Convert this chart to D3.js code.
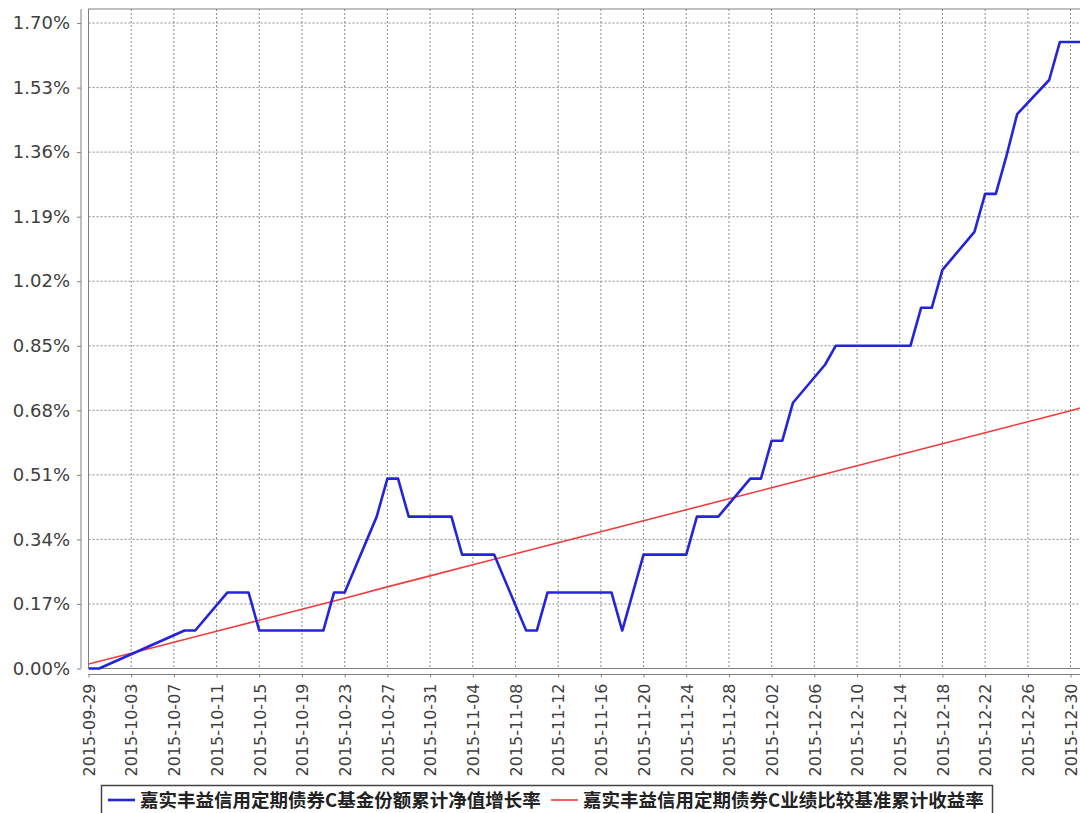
<!DOCTYPE html>
<html lang="zh-CN">
<head>
<meta charset="UTF-8">
<title>嘉实丰益信用定期债券C 累计净值增长率</title>
<script src="https://d3js.org/d3.v7.min.js"></script>
<style>
    body { margin: 0; padding: 0; background: #fff; overflow: hidden; }
    svg { display: block; }
    .tick-label { font-family: "DejaVu Sans", Verdana, sans-serif; fill: #404040; }
    .legend-text { font-family: "Noto Sans CJK SC", sans-serif; font-weight: bold; fill: #222; }
</style>
</head>
<body>
<svg id="chart" width="1080" height="813"></svg>
<script>
// 日期（交易日 + 节假日首尾）
const blueDates = [
    "2015-09-29", "2015-09-30", "2015-10-08", "2015-10-09", "2015-10-12", "2015-10-13", "2015-10-14",
    "2015-10-15", "2015-10-16", "2015-10-19", "2015-10-20", "2015-10-21", "2015-10-22", "2015-10-23",
    "2015-10-26", "2015-10-27", "2015-10-28", "2015-10-29", "2015-10-30", "2015-11-02", "2015-11-03",
    "2015-11-04", "2015-11-05", "2015-11-06", "2015-11-09", "2015-11-10", "2015-11-11", "2015-11-12",
    "2015-11-13", "2015-11-16", "2015-11-17", "2015-11-18", "2015-11-19", "2015-11-20", "2015-11-23",
    "2015-11-24", "2015-11-25", "2015-11-26", "2015-11-27", "2015-11-30", "2015-12-01", "2015-12-02",
    "2015-12-03", "2015-12-04", "2015-12-07", "2015-12-08", "2015-12-09", "2015-12-10", "2015-12-11",
    "2015-12-14", "2015-12-15", "2015-12-16", "2015-12-17", "2015-12-18", "2015-12-21", "2015-12-22",
    "2015-12-23", "2015-12-24", "2015-12-25", "2015-12-28", "2015-12-29", "2015-12-30", "2015-12-31"
];
// 基金份额累计净值增长率 (%)
const blueValues = [
    0.00, 0.00, 0.10, 0.10, 0.20, 0.20, 0.20,
    0.10, 0.10, 0.10, 0.10, 0.10, 0.20, 0.20,
    0.40, 0.50, 0.50, 0.40, 0.40, 0.40, 0.30,
    0.30, 0.30, 0.30, 0.10, 0.10, 0.20, 0.20,
    0.20, 0.20, 0.20, 0.10, 0.20, 0.30, 0.30,
    0.30, 0.40, 0.40, 0.40, 0.50, 0.50, 0.60,
    0.60, 0.70, 0.80, 0.85, 0.85, 0.85, 0.85,
    0.85, 0.85, 0.95, 0.95, 1.05, 1.15, 1.25,
    1.25, 1.35, 1.46, 1.55, 1.65, 1.65, 1.65
];

// 业绩比较基准累计收益率 (%)
const redDates = [
    "2015-09-29", "2015-10-03", "2015-10-07", "2015-10-11", "2015-10-15", "2015-10-19", "2015-10-23",
    "2015-10-27", "2015-10-31", "2015-11-04", "2015-11-08", "2015-11-12", "2015-11-16", "2015-11-20",
    "2015-11-24", "2015-11-28", "2015-12-02", "2015-12-06", "2015-12-10", "2015-12-14", "2015-12-18",
    "2015-12-22", "2015-12-26", "2015-12-30", "2015-12-31"
];
const redValues = [
    0.012, 0.040, 0.069, 0.098, 0.127, 0.156, 0.185,
    0.215, 0.244, 0.273, 0.302, 0.331, 0.360, 0.389,
    0.418, 0.447, 0.476, 0.505, 0.534, 0.563, 0.592,
    0.621, 0.650, 0.679, 0.687
];

const xTickLabels = [
    "2015-09-29", "2015-10-03", "2015-10-07", "2015-10-11", "2015-10-15", "2015-10-19", "2015-10-23",
    "2015-10-27", "2015-10-31", "2015-11-04", "2015-11-08", "2015-11-12", "2015-11-16", "2015-11-20",
    "2015-11-24", "2015-11-28", "2015-12-02", "2015-12-06", "2015-12-10", "2015-12-14", "2015-12-18",
    "2015-12-22", "2015-12-26", "2015-12-30"
];
const yTicks = [0, 0.17, 0.34, 0.51, 0.68, 0.85, 1.02, 1.19, 1.36, 1.53, 1.70];

const seriesNames = [
    "嘉实丰益信用定期债券C基金份额累计净值增长率",
    "嘉实丰益信用定期债券C业绩比较基准累计收益率"
];

const parse = d3.utcParse("%Y-%m-%d");
const svg = d3.select("#chart");

// 绘图区
const plot = { left: 88.5, top: 9, right: 1081.2, bottom: 668.5 };

const x = d3.scaleUtc()
    .domain([parse("2015-09-29"), parse("2015-12-31")])
    .range([plot.left, plot.right]);

const y = d3.scaleLinear()
    .domain([0, 1.737])
    .range([plot.bottom, plot.top]);

// 网格线
const grid = svg.append("g");
grid.selectAll(".hgrid")
    .data(yTicks)
    .enter().append("line")
    .attr("x1", plot.left).attr("x2", plot.right)
    .attr("y1", d => y(d)).attr("y2", d => y(d))
    .attr("stroke", "#8c8c8c")
    .attr("stroke-dasharray", "2,2");

grid.selectAll(".vgrid")
    .data(xTickLabels.map(parse))
    .enter().append("line")
    .attr("x1", d => x(d)).attr("x2", d => x(d))
    .attr("y1", plot.top).attr("y2", plot.bottom)
    .attr("stroke", "#8c8c8c")
    .attr("stroke-dasharray", "2,2");

// 绘图区边框
svg.append("rect")
    .attr("x", plot.left).attr("y", plot.top)
    .attr("width", plot.right - plot.left)
    .attr("height", plot.bottom - plot.top)
    .attr("fill", "none")
    .attr("stroke", "#808080");

// 坐标轴（偏移）
const yAxis = svg.append("g")
    .attr("transform", "translate(81,0)")
    .call(d3.axisLeft(y).tickValues(yTicks).tickSize(4).tickPadding(7)
        .tickFormat(d => d.toFixed(2) + "%"));
yAxis.select(".domain").attr("stroke", "#808080").attr("d", `M0,${plot.top}V${plot.bottom}`);
yAxis.selectAll(".tick line").attr("stroke", "#808080");
yAxis.selectAll(".tick text")
    .attr("class", "tick-label")
    .style("font-size", "18px");

const xAxis = svg.append("g")
    .attr("transform", "translate(0,674.5)")
    .call(d3.axisBottom(x).tickValues(xTickLabels.map(parse)).tickSize(3)
        .tickFormat(d3.utcFormat("%Y-%m-%d")));
xAxis.select(".domain").attr("stroke", "#808080").attr("d", `M${plot.left},0H${plot.right}`);
xAxis.selectAll(".tick line").attr("stroke", "#808080");
xAxis.selectAll(".tick text")
    .attr("class", "tick-label")
    .style("font-size", "16px")
    .attr("transform", "rotate(-90)")
    .attr("x", -9)
    .attr("y", 0)
    .attr("dy", "0.36em")
    .style("text-anchor", "end");

// 折线
const line = d3.line()
    .x(d => x(d[0]))
    .y(d => y(d[1]));

svg.append("clipPath").attr("id", "clip")
    .append("rect")
    .attr("x", plot.left).attr("y", plot.top)
    .attr("width", plot.right - plot.left)
    .attr("height", plot.bottom - plot.top + 2);

const redData = redDates.map((d, i) => [parse(d), redValues[i]]);
const blueData = blueDates.map((d, i) => [parse(d), blueValues[i]]);

svg.append("path")
    .datum(redData)
    .attr("clip-path", "url(#clip)")
    .attr("fill", "none")
    .attr("stroke", "#f03c3c")
    .attr("stroke-width", 1.6)
    .attr("d", line);

svg.append("path")
    .datum(blueData)
    .attr("clip-path", "url(#clip)")
    .attr("fill", "none")
    .attr("stroke", "#2424dc")
    .attr("stroke-width", 2.6)
    .attr("stroke-linejoin", "round")
    .attr("d", line);

// 图例
const legend = svg.append("g");
legend.append("rect")
    .attr("x", 101.5).attr("y", 785.5)
    .attr("width", 891).attr("height", 40)
    .attr("fill", "#fff")
    .attr("stroke", "#444")
    .attr("stroke-width", 1.5);

const legendItems = [
    { name: seriesNames[0], color: "#2424dc", width: 2.6, x: 108 },
    { name: seriesNames[1], color: "#f03c3c", width: 1.6, x: 551 }
];
legendItems.forEach(item => {
    legend.append("line")
        .attr("x1", item.x).attr("x2", item.x + 27)
        .attr("y1", 800).attr("y2", 800)
        .attr("stroke", item.color)
        .attr("stroke-width", item.width);
    legend.append("text")
        .attr("class", "legend-text")
        .attr("x", item.x + 32)
        .attr("y", 800)
        .attr("dy", "0.36em")
        .style("font-size", "18.5px")
        .text(item.name);
});
</script>
</body>
</html>
